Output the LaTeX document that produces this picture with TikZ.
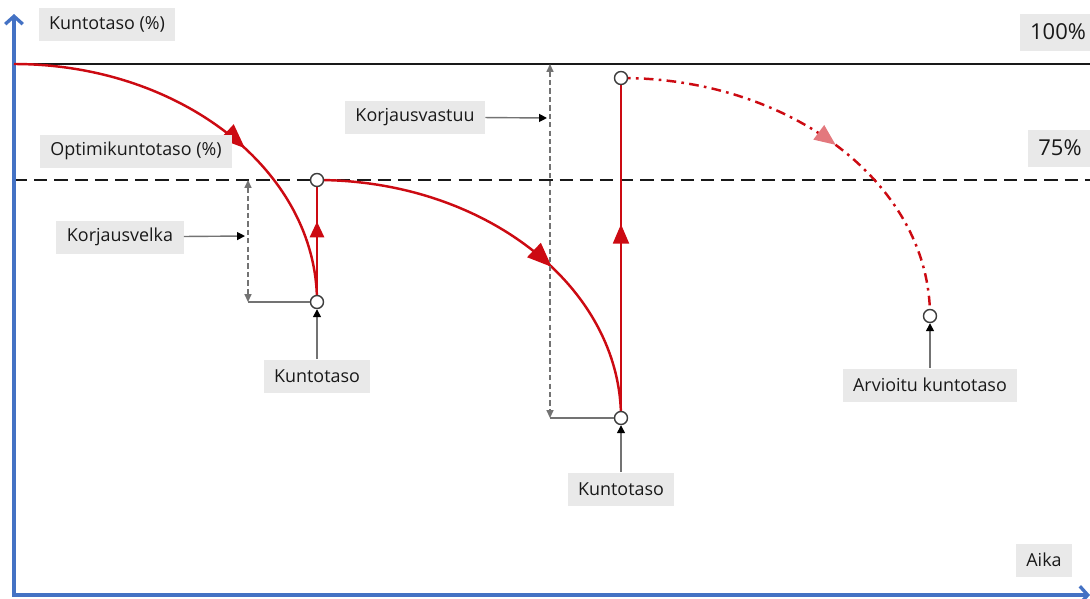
\documentclass[tikz,border=0pt]{standalone}
\usepackage{fontspec}
\setmainfont{Open Sans}
\usepackage{tikz}
\usetikzlibrary{arrows.meta, positioning, decorations.markings}
\definecolor{myred}{RGB}{204,10,18}
\definecolor{myblue}{RGB}{68,114,196}
\definecolor{mydark}{RGB}{25,25,25}
\definecolor{mygray}{RGB}{115,115,115}
\definecolor{hdrgray}{RGB}{233,233,233}
\tikzset{
  lbl/.style={rectangle, fill=hdrgray, inner xsep=6pt, minimum height=0.66cm,
    font=\fontsize{10.2}{12}\selectfont, text=mydark},
  biglbl/.style={lbl, font=\fontsize{12.5}{14}\selectfont, minimum height=0.74cm},
  ptnode/.style={circle, draw=mydark!85, fill=white, minimum size=0.26cm,
    inner sep=0pt, line width=0.8pt},
  axline/.style={{Straight Barb[length=4.5pt,width=10pt]}-{Straight Barb[length=4.5pt,width=10pt]},
    line width=1.9pt, color=myblue},
  fullline/.style={line width=1.1pt, color=mydark},
  optline/.style={line width=1.2pt, color=mydark, dash pattern=on 7.5pt off 4pt},
  redline/.style={line width=1.4pt, color=myred},
  estline/.style={line width=1.4pt, color=myred, dash pattern=on 5.5pt off 3pt on 1.5pt off 3pt},
  midarrow/.style n args={3}{postaction={decorate}, decoration={markings,
    mark=at position #1 with {\arrow{Triangle[length=#2,width=#3]}}}},
  fadearrow/.style={postaction={decorate}, decoration={markings,
    mark=at position #1 with {\arrow{Triangle[length=12pt,width=10pt,color=myred!55,fill=myred!55]}}}},
  dimline/.style={{Triangle[length=4.5pt,width=4pt]}-{Triangle[length=4.5pt,width=4pt]},
    line width=0.8pt, color=mygray, dash pattern=on 3pt off 1.8pt},
  guide/.style={line width=0.8pt, color=mygray},
  pointer/.style={-{Triangle[length=4.5pt,width=4.5pt,color=black]}, line width=0.8pt, color=mygray}
}

\begin{document}
\begin{tikzpicture}[x=0.02cm, y=-0.02cm]
  \useasboundingbox (0,0) rectangle (1090,599);

  % Coordinates
  \coordinate (orig) at (14,595);
  \coordinate (ytop) at (14,14);
  \coordinate (xend) at (1090,595);
  \coordinate (fullL) at (14,64);
  \coordinate (fullR) at (1090,64);
  \coordinate (optL) at (14,180);
  \coordinate (optR) at (1090,180);
  \coordinate (p1) at (317,302);
  \coordinate (p2) at (317,180);
  \coordinate (p3) at (621,418);
  \coordinate (p4) at (621,78);
  \coordinate (p5) at (930,316);
  \coordinate (velkatop) at (248,180);
  \coordinate (velkabot) at (248,302);
  \coordinate (velkatip) at (245,236);
  \coordinate (vastuutop) at (550,64);
  \coordinate (vastuubot) at (550,418);
  \coordinate (vastuutip) at (547,118);

  % Levels
  \draw[fullline] (fullL) -- (fullR);
  \draw[optline] (optL) -- (optR);

  % Axes
  \draw[axline] (ytop) -- (orig) -- (xend);

  % Condition curves
  \draw[redline, midarrow={0.59}{14pt}{11pt}] (fullL) .. controls +(167,0) and +(0,-131) .. (p1);
  \draw[redline, midarrow={0.66}{9pt}{8pt}] (p1) -- (p2);
  \draw[redline, midarrow={0.6}{14pt}{11pt}] (p2) .. controls +(168,0) and +(0,-131) .. (p3);
  \draw[redline, midarrow={0.57}{11pt}{9pt}] (p3) -- (p4);
  \draw[estline, fadearrow=0.53] (p4) .. controls +(171,0) and +(0,-131) .. (p5);

  % Dimensions
  \draw[dimline] (velkatop) -- (velkabot);
  \draw[dimline] (vastuutop) -- (vastuubot);

  % Points
  \node[ptnode] (k1) at (p1) {};
  \node[ptnode] (k2) at (p2) {};
  \node[ptnode] (k3) at (p3) {};
  \node[ptnode] (k4) at (p4) {};
  \node[ptnode] (k5) at (p5) {};

  \draw[guide] (velkabot) -- (k1);
  \draw[guide] (vastuubot) -- (k3);

  % Labels
  \node[lbl] (ylab) at (107,24) {Kuntotaso (\%)};
  \node[lbl] (xlab) at (1044,560) {Aika};
  \node[biglbl] (full) at (1058,32) {100\%};
  \node[biglbl] (opt) at (1060,148) {75\%};
  \node[lbl] (optlab) at (136,151) {Optimikuntotaso (\%)};
  \node[lbl] (velka) at (120,237) {Korjausvelka};
  \node[lbl] (vastuu) at (415,117) {Korjausvastuu};
  \node[lbl] (kunto1) at (317,376) {Kuntotaso};
  \node[lbl] (kunto2) at (621,489) {Kuntotaso};
  \node[lbl] (arvio) at (930,385) {Arvioitu kuntotaso};

  % Pointers
  \draw[pointer] (velka) -- (velkatip);
  \draw[pointer] (vastuu) -- (vastuutip);
  \draw[pointer] (kunto1) -- (k1);
  \draw[pointer] (kunto2) -- (k3);
  \draw[pointer] (arvio) -- (k5);
\end{tikzpicture}
\end{document}
